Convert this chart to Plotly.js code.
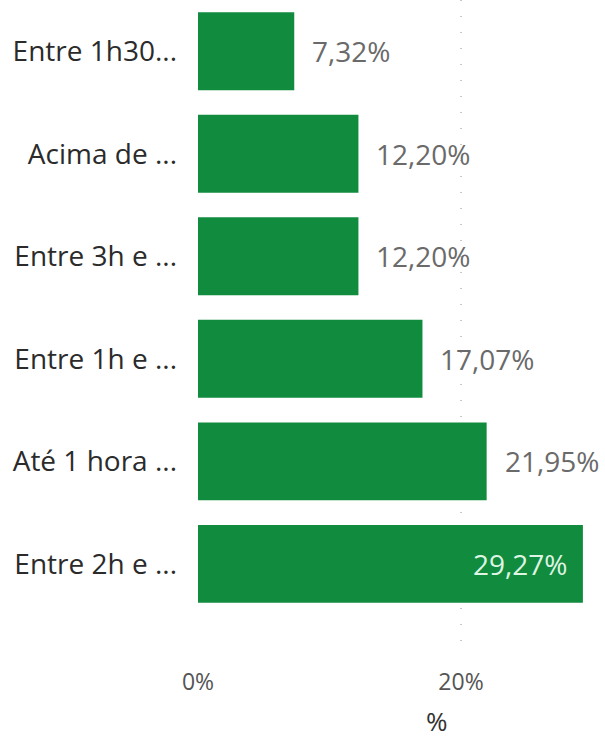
<!DOCTYPE html>
<html><head><meta charset="utf-8">
<script src="https://cdn.plot.ly/plotly-3.0.1.min.js"></script>
<style>html,body{margin:0;padding:0;background:#fff;}#chart{width:605px;height:740px;}</style>
</head><body><div id="chart"></div>
<script>
// top-to-bottom order
const categories = ["Entre 1h30...", "Acima de ...", "Entre 3h e ...", "Entre 1h e ...", "Até 1 hora ...", "Entre 2h e ..."];
const values = [7.32, 12.20, 12.20, 17.07, 21.95, 29.27];
const labels = ["7,32%", "12,20%", "12,20%", "17,07%", "21,95%", "29,27%"];
const tickVals = [0, 20];
const tickText = ["0%", "20%"];

const FONT = "Open Sans, DejaVu Sans, sans-serif";
const insideIdx = values.indexOf(Math.max(...values));

const trace = {
  type: "bar", orientation: "h",
  x: values, y: categories,
  marker: {color: "#118b3e"},
  width: 0.76,
  hoverinfo: "none"
};

const annotations = values.map((v, i) => {
  const inside = i === insideIdx;
  return {
    x: v, y: categories[i], xref: "x", yref: "y",
    text: labels[i], showarrow: false,
    xanchor: inside ? "right" : "left", xshift: inside ? -14 : 16,
    font: {family: FONT, size: 28, color: inside ? "#dff5e3" : "#6a6a6a"}
  };
});
annotations.push({
  x: (437 - 198) / (605 - 198 - 5), y: -(721 - 650) / 650,
  xref: "paper", yref: "paper", yanchor: "middle", text: "%", showarrow: false,
  font: {family: FONT, size: 26, color: "#333"}
});

const layout = {
  width: 605, height: 740,
  margin: {l: 198, r: 5, t: 0, b: 90},
  paper_bgcolor: "#fff", plot_bgcolor: "#fff",
  showlegend: false,
  font: {family: FONT},
  xaxis: {
    range: [0, 30.57], tickvals: tickVals, ticktext: tickText,
    showgrid: true, gridcolor: "#c8c8c8", gridwidth: 2, griddash: "1px,15px",
    zeroline: false, showline: false, ticks: "",
    tickfont: {family: FONT, size: 23, color: "#555"},
    ticklabelstandoff: 16
  },
  yaxis: {
    type: "category", categoryorder: "array", categoryarray: categories,
    range: [5.84, -0.5],
    showgrid: false, zeroline: false, showline: false, ticks: "",
    tickfont: {family: FONT, size: 28, color: "#2b2b2b"},
    ticklabelstandoff: 20
  },
  annotations: annotations
};

Plotly.newPlot("chart", [trace], layout, {staticPlot: true, displayModeBar: false});
</script>
</body></html>
